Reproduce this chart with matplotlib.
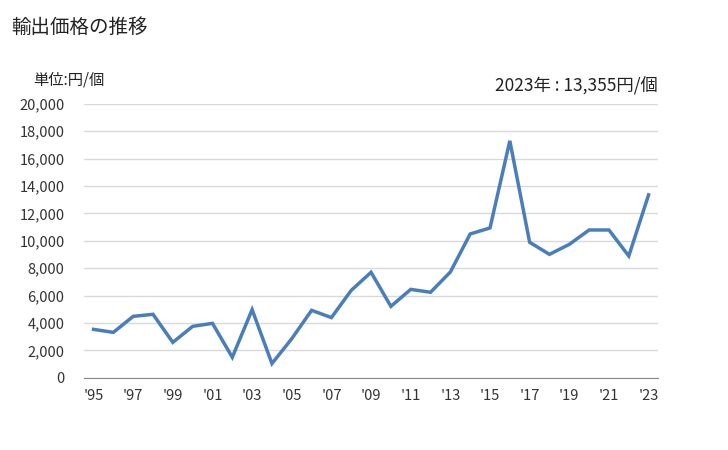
import matplotlib.pyplot as plt

plt.rcParams['font.family'] = ['Noto Sans CJK JP', 'DejaVu Sans']

years = list(range(1995, 2024))
values = [3530, 3310, 4480, 4630, 2580, 3750, 3970, 1490, 4970, 1030,
          2850, 4920, 4390, 6380, 7700, 5210, 6450, 6240, 7720, 10500,
          10940, 17300, 9890, 9010, 9740, 10790, 10790, 8890, 13355]
yticks = list(range(0, 20001, 2000))
xticks = list(range(1995, 2024, 2))
xlabels = ["'%02d" % (y % 100) for y in xticks]

fig = plt.figure(figsize=(7.28, 4.5), dpi=100)
ax = fig.add_axes([0.1154, 0.1607, 0.7886, 0.6084])

ax.plot(years, values, color='#4a7ebb', linewidth=2.5, solid_joinstyle='miter')

ax.set_xlim(1994.52, 2023.48)
ax.set_ylim(0, 20000)
ax.set_yticks(yticks)
ax.set_yticklabels(['{:,}'.format(v) for v in yticks])
ax.set_xticks(xticks)
ax.set_xticklabels(xlabels)
ax.grid(axis='y', color='#d9d9d9', linewidth=1)
ax.set_axisbelow(True)
for s in ['top', 'left', 'right']:
    ax.spines[s].set_visible(False)
ax.spines['bottom'].set_color('#888888')
ax.tick_params(length=0, labelsize=10.5, colors='#333333')
ax.tick_params(axis='y', pad=14)
ax.tick_params(axis='x', pad=8)

fig.text(0.016, 0.938, '輸出価格の推移', fontsize=14, color='#222222', va='center')
fig.text(0.045, 0.822, '単位:円/個', fontsize=11, color='#222222', va='center')
fig.text(0.903, 0.808, '2023年 : 13,355円/個', fontsize=12.5, color='#222222',
         va='center', ha='right')

fig.savefig('out.png', dpi=100)
